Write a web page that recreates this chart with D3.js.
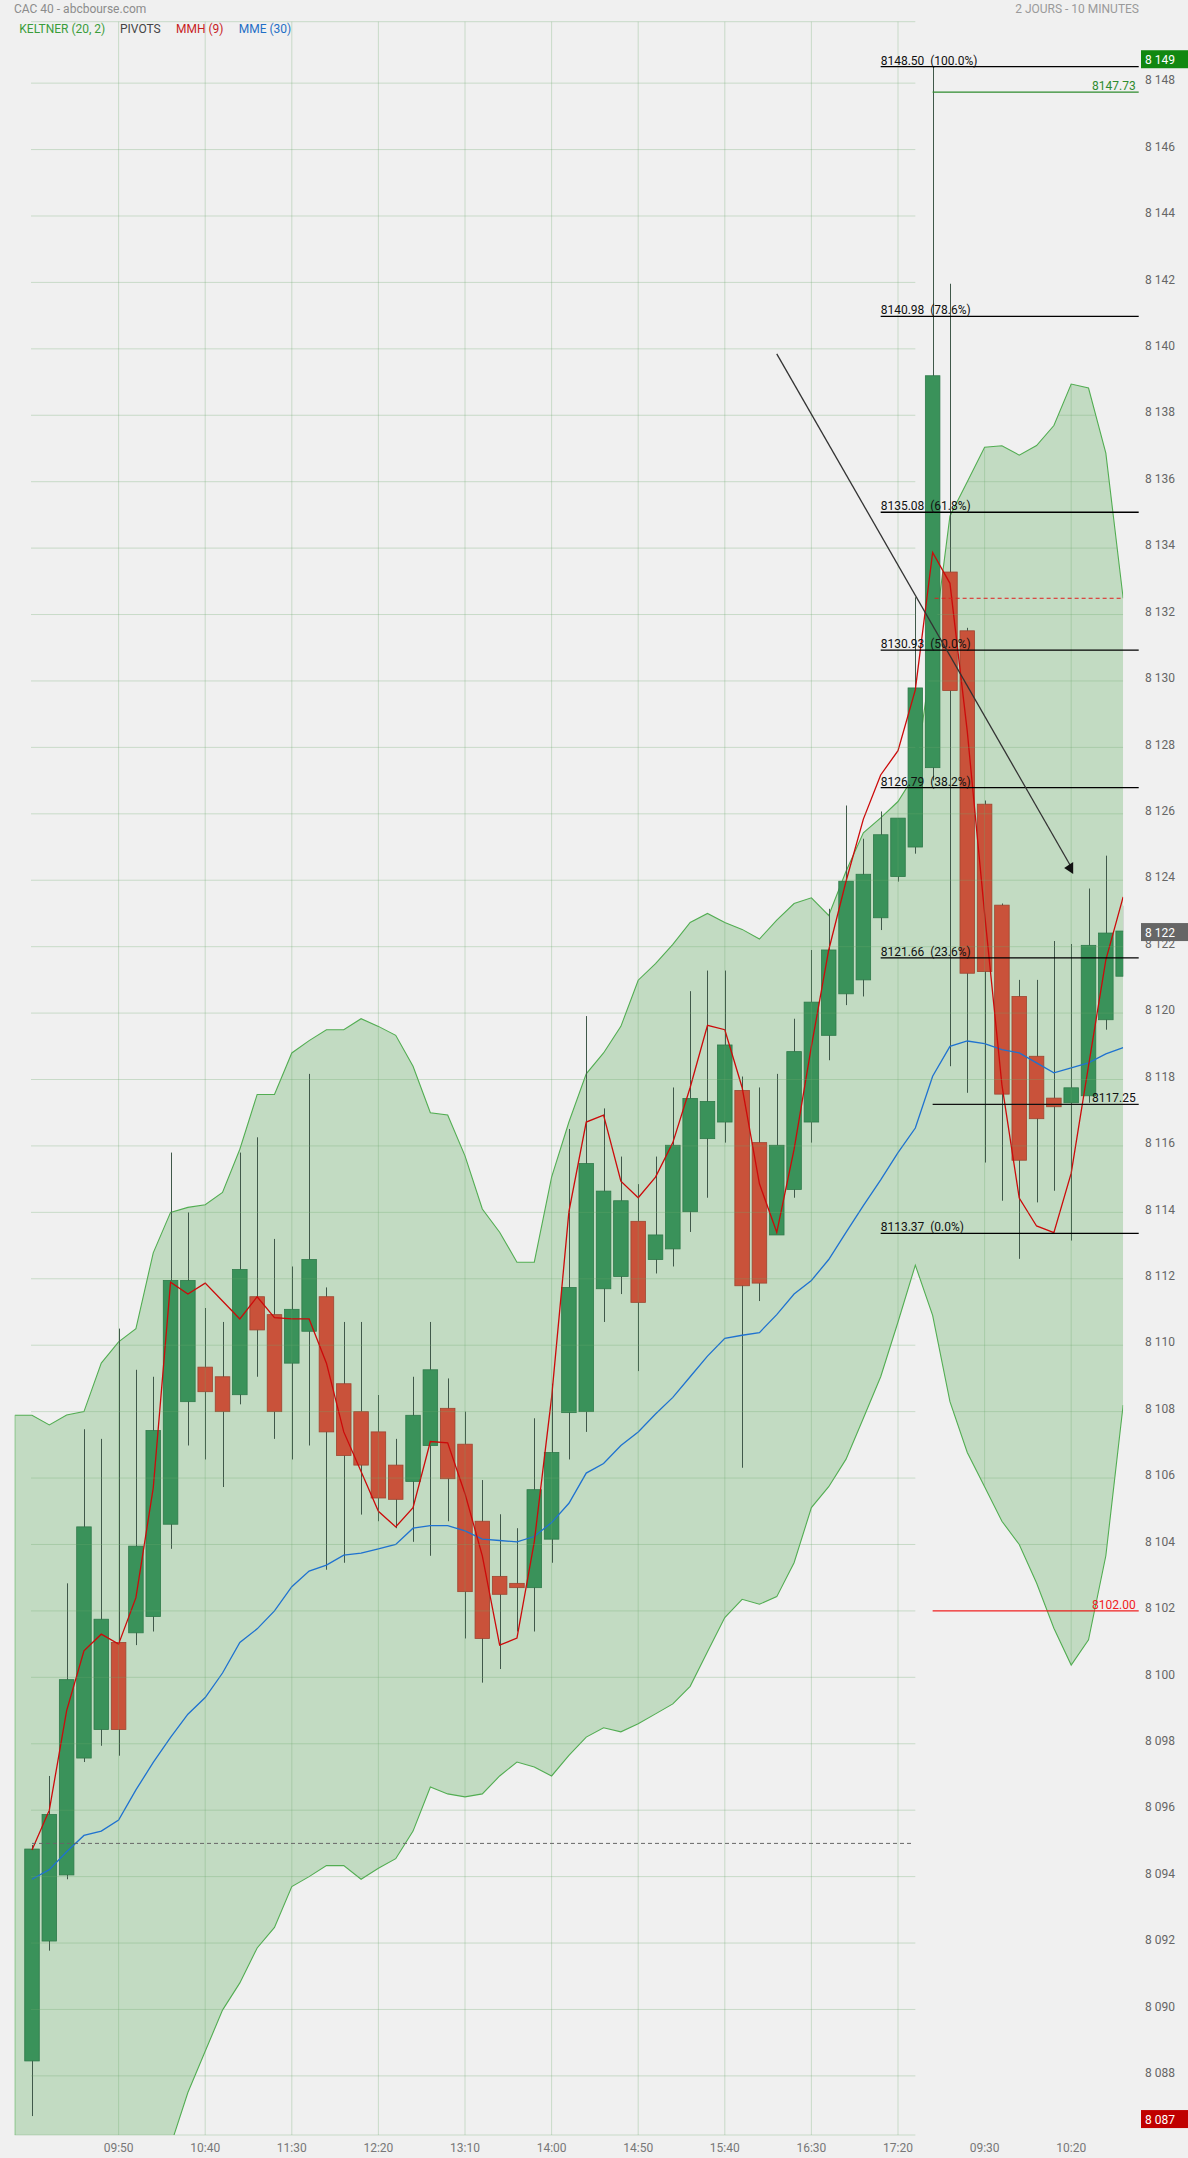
<!DOCTYPE html>
<html><head><meta charset="utf-8">
<script src="https://cdn.jsdelivr.net/npm/d3@7"></script>
<style>
html,body{margin:0;padding:0;background:#f0f0f0;}
svg{display:block;font-family:Roboto,"DejaVu Sans",sans-serif;}
</style></head><body>
<svg id="chart" width="1188" height="2158"></svg>
<script>
// ---------- DATA ----------
const openV = [8088.45,8092.06,8094.05,8097.57,8098.43,8101.05,8101.34,8101.83,8104.61,8108.3,
8109.34,8109.05,8108.51,8111.46,8110.92,8109.46,8110.42,8111.46,8108.84,8108.0,
8107.39,8106.39,8105.9,8106.98,8108.1,8107.02,8104.7,8103.04,8102.83,8102.7,
8104.16,8107.97,8108.0,8111.7,8112.07,8113.73,8112.58,8112.9,8114.02,8116.22,
8116.72,8117.67,8116.1,8113.32,8114.69,8116.72,8119.33,8120.58,8121.0,8122.87,
8124.11,8125.0,8127.39,8133.28,8131.51,8126.29,8123.25,8120.5,8118.7,8117.44,
8117.30,8117.51,8119.8,8121.11];
const highV = [8094.95,8097.03,8102.83,8107.47,8107.18,8110.5,8109.26,8109.05,8115.8,8114.0,
8111.12,8110.7,8115.8,8116.26,8113.2,8112.37,8118.17,8111.74,8110.7,8110.7,
8108.5,8107.18,8109.05,8110.7,8109.0,8108.0,8105.94,8104.91,8104.49,8107.8,
8108.84,8116.51,8119.91,8117.13,8115.68,8114.85,8115.68,8117.76,8120.66,8121.28,
8121.28,8118.09,8117.76,8118.17,8119.83,8121.9,8123.14,8126.25,8125.25,8126.07,
8125.87,8132.52,8148.5,8141.96,8131.6,8126.4,8123.3,8121.0,8121.0,8122.17,
8122.08,8123.75,8124.74,8123.23];
const lowV = [8086.79,8091.77,8093.92,8097.45,8097.94,8097.64,8100.97,8101.38,8103.87,8106.98,
8106.56,8105.73,8108.22,8109.05,8107.18,8106.56,8106.98,8103.24,8103.45,8104.9,
8104.7,8104.49,8104.08,8103.66,8104.7,8101.17,8099.84,8100.25,8101.38,8101.38,
8103.45,8106.56,8107.39,8110.7,8111.54,8109.22,8112.16,8112.37,8113.41,8114.44,
8116.1,8106.31,8111.33,8113.37,8114.44,8116.1,8118.58,8120.24,8120.5,8122.5,
8123.96,8124.8,8127.0,8118.4,8117.6,8115.5,8114.35,8112.6,8114.3,8114.65,
8113.15,8117.3,8119.5,8121.11];
const closeV = [8094.83,8095.87,8099.93,8104.53,8101.75,8098.43,8103.95,8107.43,8111.95,8111.95,
8108.6,8108.0,8112.28,8110.46,8108.0,8111.08,8112.58,8107.39,8106.68,8106.39,
8105.4,8105.36,8107.89,8109.26,8105.98,8102.58,8101.17,8102.5,8102.7,8105.65,
8106.77,8111.74,8115.47,8114.64,8114.35,8111.29,8113.32,8116.02,8117.43,8117.34,
8119.04,8111.79,8111.87,8116.02,8118.84,8120.33,8121.9,8123.97,8124.18,8125.37,
8125.87,8129.79,8139.19,8129.71,8121.2,8121.25,8117.56,8115.57,8116.82,8117.18,
8117.75,8122.04,8122.41,8122.47];
// Keltner (20,2) from index -1 to 63
const keltStart = -1;
const keltUpper = [8107.89,8107.89,8107.6,8107.9,8108.0,8109.46,8110.1,8110.5,8112.78,8114.0,
8114.15,8114.23,8114.6,8115.9,8117.55,8117.55,8118.8,8119.17,8119.5,8119.5,
8119.83,8119.6,8119.33,8118.4,8117.0,8116.93,8115.7,8114.1,8113.4,8112.5,
8112.5,8115.06,8116.72,8118.17,8118.8,8119.6,8120.99,8121.49,8122.07,8122.73,
8123.0,8122.73,8122.52,8122.23,8122.8,8123.3,8123.47,8122.94,8124.27,8125.43,
8125.88,8126.37,8127.2,8130.9,8134.97,8136.0,8137.04,8137.08,8136.8,8137.09,
8137.69,8138.94,8138.82,8136.86,8132.49];
const keltLower = [8079.5,8079.5,8080.0,8080.5,8081.0,8081.5,8082.5,8083.5,8084.8,8085.9,
8087.5,8088.74,8089.98,8090.8,8091.85,8092.47,8093.7,8094.0,8094.33,8094.33,
8093.92,8094.25,8094.54,8095.37,8096.7,8096.49,8096.4,8096.49,8097.03,8097.45,
8097.3,8097.03,8097.65,8098.2,8098.48,8098.36,8098.6,8098.9,8099.2,8099.73,
8100.77,8101.8,8102.35,8102.2,8102.43,8103.45,8105.11,8105.74,8106.57,8107.8,
8109.05,8110.7,8112.41,8110.9,8108.3,8106.77,8105.74,8104.7,8104.0,8102.84,
8101.48,8100.37,8101.13,8103.66,8108.2];
const mmh9 = [8094.8,8096.0,8099.0,8100.8,8101.3,8101.0,8102.4,8105.7,8111.9,8111.54,
8111.87,8111.33,8110.79,8111.46,8110.83,8110.79,8110.79,8109.46,8107.39,8106.2,
8105.0,8104.53,8105.11,8107.1,8107.06,8105.53,8103.66,8100.97,8101.18,8104.08,
8108.43,8114.02,8116.72,8116.93,8114.94,8114.44,8115.06,8116.1,8117.76,8119.63,
8119.5,8117.76,8114.86,8113.4,8115.9,8119.0,8121.9,8123.97,8125.84,8127.17,
8127.9,8129.73,8133.87,8132.94,8128.48,8123.0,8117.84,8114.43,8113.59,8113.39,
8115.18,8118.41,8121.6,8123.5];
const mme30 = [8093.92,8094.21,8094.75,8095.24,8095.37,8095.7,8096.61,8097.44,8098.19,8098.89,
8099.39,8100.13,8101.05,8101.46,8102.0,8102.73,8103.2,8103.38,8103.68,8103.74,
8103.87,8104.0,8104.49,8104.57,8104.57,8104.41,8104.16,8104.12,8104.08,8104.24,
8104.66,8105.24,8106.15,8106.44,8106.98,8107.39,8107.93,8108.43,8109.05,8109.67,
8110.21,8110.3,8110.38,8110.92,8111.54,8111.95,8112.58,8113.4,8114.2,8114.98,
8115.8,8116.54,8118.1,8119.0,8119.16,8119.08,8118.9,8118.8,8118.5,8118.2,
8118.35,8118.5,8118.77,8118.96];
const fibLevels = [8148.50,8140.98,8135.08,8130.93,8126.79,8121.66,8113.37];
const fibPct = ["100.0%","78.6%","61.8%","50.0%","38.2%","23.6%","0.0%"];
const pivotLevels = [8147.73,8117.25,8102.00];
const pivotColors = ["#2e8b2e","#111111","#f02020"];
const prevClose = 8095.0;
const upperNow = 8132.49;
const trendLine = [{i:43,v:8139.85},{i:60,v:8124.4}];
const xTickIdx = [5,10,15,20,25,30,35,40,45,50,55,60];
const xTickLabels = ["09:50","10:40","11:30","12:20","13:10","14:00","14:50","15:40","16:30","17:20","09:30","10:20"];
const yTicks = d3.range(8088,8149,2);
const markerValues = [8148.72,8122.44,8086.7];
const markerTexts = [8149,8122,8087];
const markerColors = ["#118811","#666666","#c00000"];
const legendItems = ["KELTNER (20, 2)","PIVOTS","MMH (9)","MME (30)"];
const legendColors = ["#3a9d3a","#444444","#c81e1e","#1f6fc6"];

// ---------- SCALES ----------
const svg = d3.select("#chart");
const x = d3.scaleLinear().domain([-1,63]).range([14.68,1123.16]);
const y = d3.scaleLinear().domain([8086.22,8149.85]).range([2135,21.7]);
const plotTop = 21.7, plotBot = 2135, gridLeft = 31, dayBreak = x(51);
const fmt = d3.formatLocale({decimal:".",thousands:" ",grouping:[3],currency:["",""]}).format(",d");
const candleW = (x(1)-x(0))*0.84;

svg.append("rect").attr("width",1188).attr("height",2158).attr("fill","#f0f0f0");

const defs = svg.append("defs");
defs.append("clipPath").attr("id","plotclip").append("rect")
  .attr("x",x(-1)).attr("y",plotTop).attr("width",x(63)-x(-1)).attr("height",plotBot-plotTop);

const kIdx = keltUpper.map((d,k)=>k+keltStart);
const area = d3.area().x((d,k)=>x(kIdx[k])).y0((d,k)=>y(keltLower[k])).y1(d=>y(d));
defs.append("clipPath").attr("id","kclip").append("path").attr("d",area(keltUpper));

const plot = svg.append("g").attr("clip-path","url(#plotclip)");
plot.append("path").attr("d",area(keltUpper)).attr("fill","#c2dbc2");

// gridlines day 1
const gridCol = "rgba(110,170,110,0.3)";
const g1 = svg.append("g");
g1.selectAll("line.h").data(yTicks).join("line")
  .attr("x1",gridLeft).attr("x2",dayBreak).attr("y1",d=>y(d)).attr("y2",d=>y(d))
  .attr("stroke",gridCol).attr("stroke-width",1);
g1.append("line").attr("x1",gridLeft).attr("x2",dayBreak).attr("y1",plotTop).attr("y2",plotTop)
  .attr("stroke",gridCol);
g1.append("line").attr("x1",x(-1)).attr("x2",dayBreak).attr("y1",plotBot).attr("y2",plotBot)
  .attr("stroke",gridCol);
g1.selectAll("line.v").data(xTickIdx.filter(i=>i<52)).join("line")
  .attr("x1",d=>x(d)).attr("x2",d=>x(d)).attr("y1",plotTop).attr("y2",plotBot)
  .attr("stroke",gridCol);
// gridlines day 2 (only inside band)
const g2 = svg.append("g").attr("clip-path","url(#kclip)");
g2.selectAll("line.h").data(yTicks).join("line")
  .attr("x1",dayBreak).attr("x2",x(63)).attr("y1",d=>y(d)).attr("y2",d=>y(d))
  .attr("stroke",gridCol);
g2.selectAll("line.v").data(xTickIdx.filter(i=>i>=52)).join("line")
  .attr("x1",d=>x(d)).attr("x2",d=>x(d)).attr("y1",plotTop).attr("y2",plotBot)
  .attr("stroke",gridCol);

// Keltner lines
const kLine = d3.line().x((d,k)=>x(kIdx[k])).y(d=>y(d));
plot.append("path").attr("d",kLine(keltUpper)).attr("fill","none").attr("stroke","#52ad52").attr("stroke-width",1.1);
plot.append("path").attr("d",kLine(keltLower)).attr("fill","none").attr("stroke","#52ad52").attr("stroke-width",1.1);
plot.append("line").attr("x1",x(keltStart)).attr("x2",x(keltStart))
  .attr("y1",y(keltUpper[0])).attr("y2",y(keltLower[0])).attr("stroke","#7cc07c").attr("stroke-width",1.5);

// previous close dashed
svg.append("line").attr("x1",x(0)).attr("x2",dayBreak-2).attr("y1",y(prevClose)).attr("y2",y(prevClose))
  .attr("stroke","#666").attr("stroke-dasharray","4,3").attr("stroke-width",1);

// candles
const cg = plot.append("g");
const idx = d3.range(openV.length);
cg.selectAll("line.w").data(idx).join("line")
  .attr("x1",i=>Math.round(x(i))+0.5).attr("x2",i=>Math.round(x(i))+0.5)
  .attr("y1",i=>y(highV[i])).attr("y2",i=>y(lowV[i]))
  .attr("stroke","#40584a").attr("stroke-width",1);
cg.selectAll("rect.b").data(idx).join("rect")
  .attr("x",i=>x(i)-candleW/2).attr("width",candleW)
  .attr("y",i=>y(Math.max(openV[i],closeV[i])))
  .attr("height",i=>Math.max(1,Math.abs(y(openV[i])-y(closeV[i]))))
  .attr("fill",i=>closeV[i]>=openV[i]?"#3a925a":"#c9523a")
  .attr("stroke",i=>closeV[i]>=openV[i]?"#2f7a4a":"#9e4530").attr("stroke-width",0.8);

// moving averages
const mLine = d3.line().x((d,i)=>x(i)).y(d=>y(d));
plot.append("path").attr("d",mLine(mme30)).attr("fill","none").attr("stroke","#1f72d0").attr("stroke-width",1.3);
plot.append("path").attr("d",mLine(mmh9)).attr("fill","none").attr("stroke","#cc0a0a").attr("stroke-width",1.3);

// upper band current dashed
svg.append("line").attr("x1",x(52)+2).attr("x2",x(63)).attr("y1",y(upperNow)).attr("y2",y(upperNow))
  .attr("stroke","#e02020").attr("stroke-dasharray","4,3").attr("stroke-width",1);

// fibonacci
const lineEnd = 1138.7;
const fg = svg.append("g");
fg.selectAll("line").data(fibLevels).join("line")
  .attr("x1",x(49)).attr("x2",lineEnd).attr("y1",d=>y(d)).attr("y2",d=>y(d))
  .attr("stroke","#000").attr("stroke-width",1.3);
fg.selectAll("text").data(fibLevels).join("text")
  .attr("x",x(49)).attr("y",d=>y(d)-1.8).attr("font-size",12).attr("fill","#111")
  .style("white-space","pre")
  .text((d,k)=>d.toFixed(2)+"  ("+fibPct[k]+")");

// pivots
const pg = svg.append("g");
pg.selectAll("line").data(pivotLevels).join("line")
  .attr("x1",x(52)).attr("x2",lineEnd).attr("y1",d=>y(d)).attr("y2",d=>y(d))
  .attr("stroke",(d,k)=>pivotColors[k]).attr("stroke-width",1.1);
pg.selectAll("text").data(pivotLevels).join("text")
  .attr("x",lineEnd-3).attr("y",d=>y(d)-2).attr("text-anchor","end").attr("font-size",12)
  .attr("fill",(d,k)=>pivotColors[k]).text(d=>d.toFixed(2));

// trend arrow
const p0 = [x(trendLine[0].i),y(trendLine[0].v)], p1=[x(trendLine[1].i),y(trendLine[1].v)];
svg.append("line").attr("x1",p0[0]).attr("y1",p0[1]).attr("x2",p1[0]).attr("y2",p1[1])
  .attr("stroke","#333").attr("stroke-width",1.3);
svg.append("path").attr("d",`M${p1[0]-7},${p1[1]+1}L${p1[0]+2},${p1[1]-5}L${p1[0]+2},${p1[1]+7}Z`).attr("fill","#111");

// y axis labels
const ya = svg.append("g").attr("font-size",12).attr("fill","#666");
ya.selectAll("text").data(yTicks).join("text")
  .attr("x",1145).attr("y",d=>y(d)+1.2).text(d=>fmt(d));
const mk = svg.append("g");
mk.selectAll("rect").data(markerValues).join("rect")
  .attr("x",1141).attr("width",47).attr("y",d=>y(d)-9).attr("height",18)
  .attr("fill",(d,k)=>markerColors[k]);
mk.selectAll("text").data(markerValues).join("text")
  .attr("x",1145).attr("y",d=>y(d)+4.5).attr("font-size",12).attr("fill","#fff")
  .text((d,k)=>fmt(markerTexts[k]));

// x axis labels
svg.append("g").attr("font-size",12).attr("fill","#777").selectAll("text").data(xTickIdx).join("text")
  .attr("x",d=>x(d)).attr("y",2152).attr("text-anchor","middle").text((d,k)=>xTickLabels[k]);

// header
svg.append("text").attr("x",14).attr("y",12.6).attr("font-size",12).attr("fill","#8c8c8c").text("CAC 40 - abcbourse.com");
svg.append("text").attr("x",1139).attr("y",12.6).attr("font-size",12).attr("fill","#9a9a9a")
  .attr("text-anchor","end").text("2 JOURS - 10 MINUTES");
const legX = [19.3,120,176,238.7];
svg.append("g").attr("font-size",12).selectAll("text").data(legendItems).join("text")
  .attr("x",(d,k)=>legX[k]).attr("y",33).attr("fill",(d,k)=>legendColors[k]).text(d=>d);
</script>
</body></html>
